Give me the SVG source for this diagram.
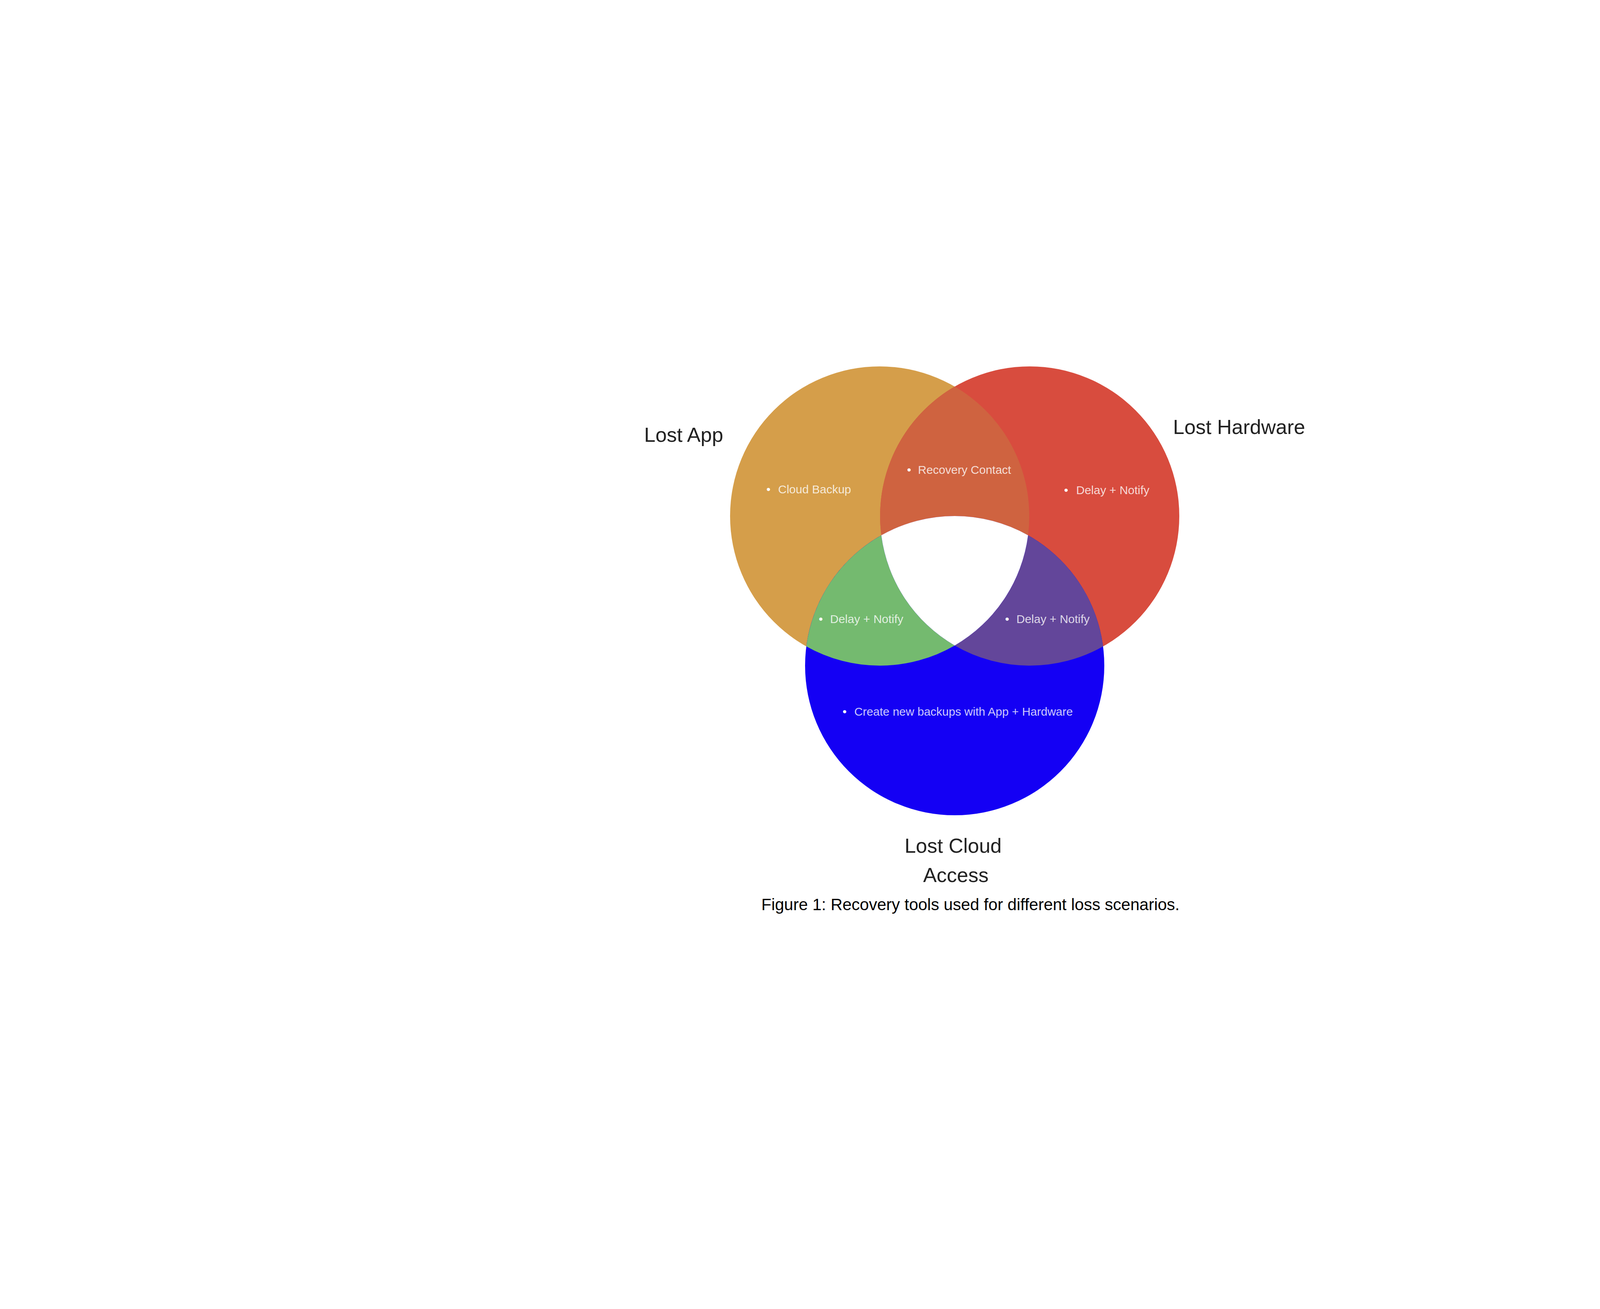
<svg xmlns="http://www.w3.org/2000/svg" width="5184" height="3351" viewBox="0 0 5184 3351">
  <style>
    .title { font-family: "Liberation Sans", Arial, sans-serif; font-size: 52px; fill: #222222; }
    .item { font-family: "Liberation Sans", Arial, sans-serif; font-size: 30px; fill: #ffffff; fill-opacity: 0.8; }
    .bullet { fill-opacity: 1; }
    .caption { font-family: "Liberation Sans", Arial, sans-serif; font-size: 42px; fill: #000000; }
  </style>
  <rect x="0" y="0" width="5184" height="3351" fill="#ffffff"/>

  <g id="node-lost-app">
    <circle cx="2252" cy="1321" r="383" fill="#D59E4A"/>
  </g>
  <g id="node-lost-hardware">
    <circle cx="2636" cy="1321" r="383" fill="#D84C3E"/>
  </g>
  <g id="node-lost-cloud">
    <circle cx="2444" cy="1704" r="383" fill="#1400F4"/>
  </g>

  <g id="overlap-app-hardware">
    <path d="M 2444 989.6 A 383 383 0 0 0 2256.2 1370.2 A 383 383 0 0 1 2631.8 1370.2 A 383 383 0 0 0 2444 989.6 Z" fill="#CF6340"/>
  </g>
  <g id="overlap-app-cloud">
    <path d="M 2064.2 1654.8 A 383 383 0 0 1 2256.2 1370.2 A 383 383 0 0 0 2444 1652.4 A 383 383 0 0 1 2064.2 1654.8 Z" fill="#74BA6F"/>
  </g>
  <g id="overlap-hardware-cloud">
    <path d="M 2631.8 1370.2 A 383 383 0 0 1 2823.8 1654.8 A 383 383 0 0 1 2444 1652.4 A 383 383 0 0 0 2631.8 1370.2 Z" fill="#63469A"/>
  </g>
  <g id="overlap-all">
    <path d="M 2256.2 1370.2 A 383 383 0 0 1 2631.8 1370.2 A 383 383 0 0 1 2444 1652.4 A 383 383 0 0 1 2256.2 1370.2 Z" fill="#ffffff"/>
  </g>

  <g id="labels">
    <text class="title" x="1649" y="1131">Lost App</text>
    <text class="title" x="3003" y="1111">Lost Hardware</text>
    <text class="title" x="2440" y="2183" text-anchor="middle">Lost Cloud</text>
    <text class="title" x="2447" y="2258" text-anchor="middle">Access</text>

    <text class="item" y="1263"><tspan class="bullet" x="1962">•</tspan><tspan x="1992">Cloud Backup</tspan></text>
    <text class="item" y="1213"><tspan class="bullet" x="2322">•</tspan><tspan x="2350">Recovery Contact</tspan></text>
    <text class="item" y="1265"><tspan class="bullet" x="2724">•</tspan><tspan x="2755">Delay + Notify</tspan></text>
    <text class="item" y="1595"><tspan class="bullet" x="2096">•</tspan><tspan x="2125">Delay + Notify</tspan></text>
    <text class="item" y="1595"><tspan class="bullet" x="2573">•</tspan><tspan x="2602">Delay + Notify</tspan></text>
    <text class="item" y="1832"><tspan class="bullet" x="2157">•</tspan><tspan x="2187">Create new backups with App + Hardware</tspan></text>

    <text class="caption" x="1949" y="2330">Figure 1: Recovery tools used for different loss scenarios.</text>
  </g>

  <g id="connectors"/>
</svg>
